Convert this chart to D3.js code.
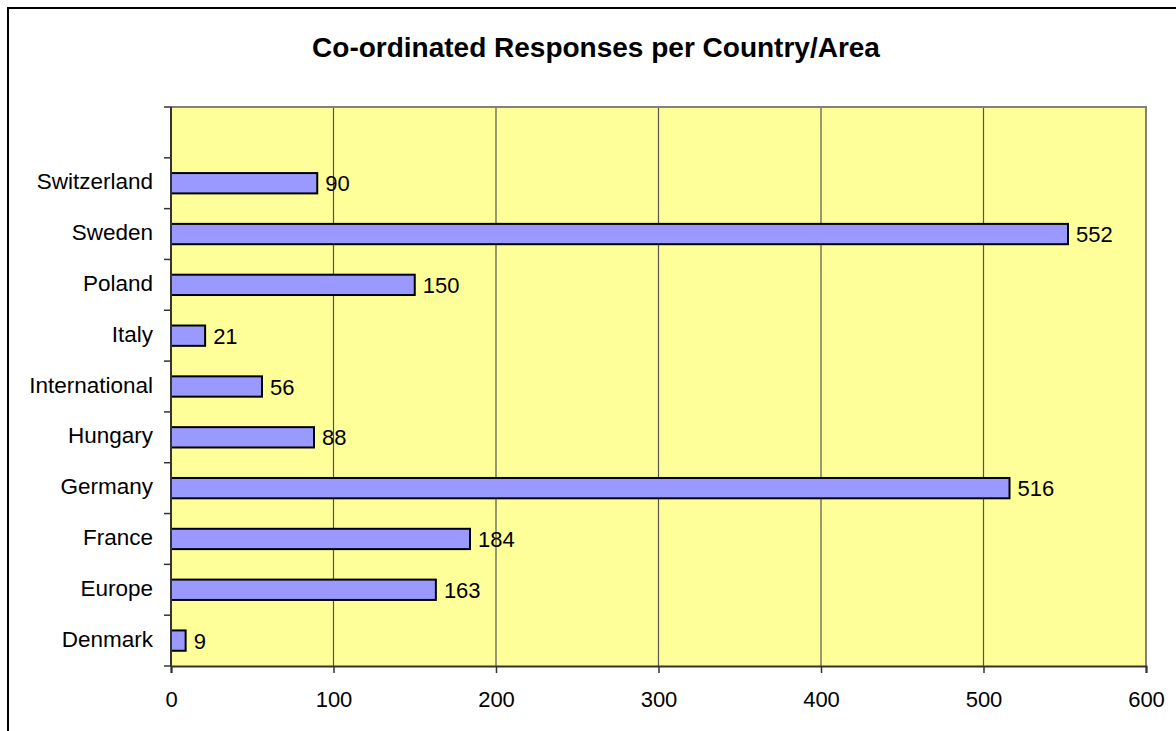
<!DOCTYPE html>
<html>
<head>
<meta charset="utf-8">
<script src="https://cdn.jsdelivr.net/npm/d3@7"></script>
<style>
  html, body { margin: 0; padding: 0; background: #fff; }
  svg { display: block; font-family: Arial, "Liberation Sans", sans-serif; }
</style>
</head>
<body>
<svg id="chart" width="1176" height="731"></svg>
<script>
// Categories listed bottom to top; the last slot is an empty spacer row.
const categories = ["Denmark", "Europe", "France", "Germany", "Hungary", "International", "Italy", "Poland", "Sweden", "Switzerland", ""];
const responses = [9, 163, 184, 516, 88, 56, 21, 150, 552, 90, null];
const xTicks = [0, 100, 200, 300, 400, 500, 600];
const title = "Co-ordinated Responses per Country/Area";

const svg = d3.select("#chart");
const plot = { left: 171, right: 1146, top: 107, bottom: 666 };

// Outer chart frame (runs past the right and bottom edges of the view)
svg.append("rect")
  .attr("x", 8).attr("y", 8)
  .attr("width", 1300).attr("height", 900)
  .attr("fill", "#fff").attr("stroke", "#000").attr("stroke-width", 2);

svg.append("text")
  .attr("x", 596).attr("y", 57)
  .attr("text-anchor", "middle")
  .attr("font-size", 28).attr("font-weight", "bold")
  .attr("fill", "#000")
  .text(title);

const x = d3.scaleLinear().domain([0, 600]).range([plot.left, plot.right]);
const y = d3.scaleBand()
  .domain(categories.map((c, i) => i))
  .range([plot.bottom, plot.top])
  .paddingInner(0.6).paddingOuter(0.3);

// Plot background
svg.append("rect")
  .attr("x", plot.left).attr("y", plot.top)
  .attr("width", plot.right - plot.left).attr("height", plot.bottom - plot.top)
  .attr("fill", "#FFFF99");

// Vertical gridlines
svg.append("g").selectAll("line")
  .data(xTicks.filter(t => t > 0 && t < 600))
  .join("line")
  .attr("x1", d => x(d)).attr("x2", d => x(d))
  .attr("y1", plot.top).attr("y2", plot.bottom)
  .attr("stroke", "#555").attr("stroke-width", 1.2);

// Plot border (top and right)
svg.append("path")
  .attr("d", `M${plot.left},${plot.top}H${plot.right}V${plot.bottom}`)
  .attr("fill", "none").attr("stroke", "#808080").attr("stroke-width", 2);

// Bars
const rows = categories.map((c, i) => ({ c, v: responses[i], i })).filter(d => d.v != null);
svg.append("g").selectAll("rect")
  .data(rows)
  .join("rect")
  .attr("x", x(0))
  .attr("y", d => y(d.i))
  .attr("width", d => x(d.v) - x(0))
  .attr("height", y.bandwidth())
  .attr("fill", "#9999FF")
  .attr("stroke", "#000").attr("stroke-width", 2);

// Value labels
svg.append("g").selectAll("text")
  .data(rows)
  .join("text")
  .attr("x", d => x(d.v) + 8)
  .attr("y", d => y(d.i) + y.bandwidth() / 2 + 8)
  .attr("font-size", 22).attr("fill", "#000")
  .text(d => d.v);

// Category axis: tick marks at slot boundaries
const step = y.step();
const boundaries = d3.range(categories.length + 1).map(k => plot.bottom - k * step);
svg.append("g").selectAll("line")
  .data(boundaries)
  .join("line")
  .attr("x1", plot.left - 7).attr("x2", plot.left)
  .attr("y1", d => d).attr("y2", d => d)
  .attr("stroke", "#333").attr("stroke-width", 1.5);
svg.append("line")
  .attr("x1", plot.left).attr("x2", plot.left)
  .attr("y1", plot.top).attr("y2", plot.bottom)
  .attr("stroke", "#333").attr("stroke-width", 2);

svg.append("g").selectAll("text")
  .data(categories.map((c, i) => ({ c, i })).filter(d => d.c))
  .join("text")
  .attr("x", 153)
  .attr("y", d => y(d.i) + y.bandwidth() / 2 + 6)
  .attr("text-anchor", "end")
  .attr("font-size", 22.5).attr("fill", "#000")
  .text(d => d.c);

// Value axis along the bottom
const xAxis = svg.append("g")
  .attr("transform", `translate(0,${plot.bottom})`)
  .call(d3.axisBottom(x).tickValues(xTicks).tickSize(7).tickPadding(18).tickFormat(d3.format("d")));
xAxis.select(".domain").attr("stroke", "#333").attr("stroke-width", 2);
xAxis.selectAll(".tick line").attr("stroke", "#333").attr("stroke-width", 1.5);
xAxis.selectAll(".tick text")
  .attr("font-size", 22).attr("fill", "#000")
  .attr("font-family", "Arial, 'Liberation Sans', sans-serif");
</script>
</body>
</html>
